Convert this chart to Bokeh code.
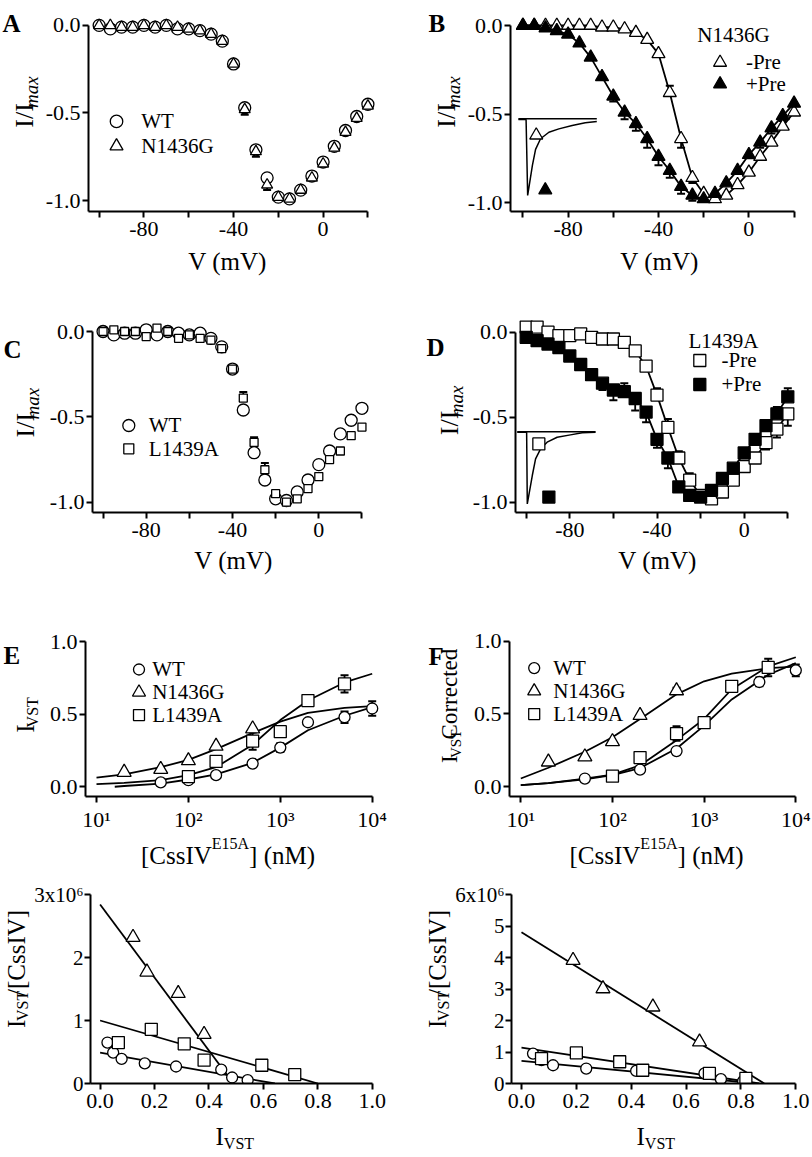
import math
from bokeh.plotting import figure
from bokeh.models import (Range1d, FixedTicker, Label, Whisker, ColumnDataSource, TeeHead)
from bokeh.layouts import row, column
from bokeh.embed import file_html
from bokeh.resources import INLINE

SERIF = "Liberation Serif"

# ---------------------------------------------------------------- data
V_mV = [-100, -95, -90, -85, -80, -75, -70, -65, -60, -55, -50, -45, -40,
        -35, -30, -25, -20, -15, -10, -5, 0, 5, 10, 15, 20]

# Panel A : I/Imax vs V
A_wt = [0.0, -0.02, -0.01, -0.01, 0.0, -0.01, 0.0, -0.02, -0.02, -0.03, -0.05, -0.09, -0.22,
        -0.47, -0.71, -0.87, -0.98, -0.99, -0.94, -0.86, -0.78, -0.69, -0.60, -0.52, -0.45]
A_n = [0.0, 0.0, -0.01, -0.01, 0.0, -0.01, 0.0, -0.01, -0.02, -0.03, -0.05, -0.09, -0.22,
       -0.48, -0.72, -0.91, -0.98, -0.99, -0.94, -0.87, -0.79, -0.70, -0.61, -0.53, -0.46]
A_n_err = [0, 0, 0, 0, 0, 0, 0, 0, 0, 0, 0, 0, 0,
           -0.03, -0.03, -0.03, 0, 0, 0, 0, 0, 0, 0, 0, 0]

# Panel B : N1436G -Pre / +Pre
B_minus = [0.0, 0.0, 0.0, 0.0, 0.0, 0.0, 0.0, -0.01, -0.01, -0.02, -0.04, -0.08, -0.16,
           -0.38, -0.64, -0.86, -0.95, -0.98, -0.96, -0.90, -0.83, -0.74, -0.66, -0.57, -0.49]
B_plus = [0.0, 0.0, -0.015, -0.03, -0.05, -0.10, -0.18, -0.29, -0.40, -0.49, -0.555, -0.64, -0.74,
          -0.82, -0.91, -0.96, -0.98, -0.95, -0.89, -0.82, -0.73, -0.66, -0.58, -0.51, -0.44]
B_minus_err = [0, 0, 0, 0, 0, 0, 0, 0, 0, 0, 0, 0, 0,
               0.04, -0.05, -0.03, 0, 0, 0, 0, 0, 0, 0, 0, 0]
B_plus_err = [0, 0, 0, 0, 0, 0, 0, 0, -0.03, -0.04, -0.04, -0.05, -0.05,
              -0.04, -0.04, -0.03, 0, 0, 0, 0, -0.02, -0.03, -0.03, -0.03, 0]
B_trace_plus_x = [-102, -98.6, -97.9, -95.8, -94.4, -92.2, -88.5, -84.1, -78.2, -72.4, -67.3]
B_trace_plus_y = [-0.531, -0.531, -0.96, -0.79, -0.70, -0.64, -0.603, -0.584, -0.565, -0.55, -0.542]
B_trace_minus_x = [-102, -67.3]
B_trace_minus_y = [-0.527, -0.527]
B_inset_open = ([-94.1], [-0.62])
B_inset_fill = ([-90.1], [-0.93])

# Panel C : WT vs L1439A
C_wt = [0.0, -0.02, -0.01, -0.01, 0.01, -0.02, 0.0, -0.01, -0.02, -0.01, -0.04, -0.09, -0.22,
        -0.46, -0.71, -0.87, -0.98, -0.99, -0.94, -0.87, -0.78, -0.70, -0.60, -0.52, -0.45]
C_l = [0.0, 0.01, 0.0, 0.0, -0.03, 0.02, 0.0, -0.04, -0.02, -0.04, -0.05, -0.10, -0.22,
       -0.39, -0.65, -0.81, -0.95, -1.0, -0.98, -0.92, -0.85, -0.75, -0.70, -0.61, -0.56]
C_l_err = [0, 0, 0, 0, 0, 0, 0, 0, 0, 0, 0, 0, 0,
           0.035, 0.03, 0.04, 0, 0, 0, 0, 0, 0, 0, 0, 0]

# Panel D : L1439A -Pre / +Pre
D_minus = [0.03, 0.03, 0.0, -0.02, -0.02, -0.01, -0.03, -0.04, -0.04, -0.06, -0.11, -0.20, -0.37,
           -0.56, -0.74, -0.87, -0.96, -0.98, -0.94, -0.87, -0.79, -0.74, -0.65, -0.57, -0.48]
D_plus = [-0.03, -0.05, -0.07, -0.09, -0.14, -0.19, -0.25, -0.30, -0.34, -0.35, -0.39, -0.47, -0.63,
          -0.74, -0.91, -0.96, -0.97, -0.93, -0.86, -0.80, -0.71, -0.63, -0.55, -0.48, -0.38]
D_minus_err = [0, 0, 0, 0, 0, 0, 0, 0, 0, 0, 0, 0, 0.04,
               0.05, 0.04, 0.04, 0.03, 0, 0, 0, 0, 0, -0.04, -0.05, -0.07]
D_plus_err = [0, 0, 0, 0, 0, 0, -0.03, -0.04, -0.06, 0.05, -0.07, -0.06, -0.05,
              -0.06, 0, 0, 0, 0, 0, 0, 0, 0, 0, 0.04, 0.05]
D_trace_plus_x = [-104.1, -99.8, -99.5, -97.2, -95.7, -93.4, -90.4, -85.8, -79.7, -74.3, -68.2]
D_trace_plus_y = [-0.588, -0.588, -1.01, -0.843, -0.745, -0.686, -0.647, -0.618, -0.604, -0.592, -0.588]
D_trace_minus_x = [-104.1, -68.2]
D_trace_minus_y = [-0.585, -0.585]
D_inset_open = ([-94.2], [-0.657])
D_inset_fill = ([-89.6], [-0.97])

# Panel E : I_VST vs [CssIV E15A] (nM)
E_wt_x = [50, 100, 200, 500, 1000, 2000, 5000, 10000]
E_wt = [0.03, 0.045, 0.08, 0.16, 0.27, 0.445, 0.48, 0.54]
E_wt_err = [0, 0, 0, 0, 0.03, 0, 0.04, 0.05]
E_n_x = [20, 50, 100, 200, 500]
E_n = [0.10, 0.12, 0.18, 0.28, 0.40]
E_l_x = [100, 200, 500, 1000, 2000, 5000]
E_l = [0.07, 0.175, 0.315, 0.38, 0.595, 0.71]
E_l_err = [0, 0, 0.06, 0.03, 0, 0.06]
fit_x = [10, 20, 50, 100, 200, 500, 1000, 2000, 5000, 10000]
fitE_wt_x = [15.8, 20, 50, 100, 200, 500, 1000, 2000, 5000, 10000]
fitE_wt = [0.0, 0.005, 0.022, 0.05, 0.085, 0.165, 0.27, 0.39, 0.49, 0.55]
fitE_n = [0.063, 0.085, 0.135, 0.185, 0.26, 0.37, 0.45, 0.51, 0.545, 0.557]
fitE_l = [0.018, 0.027, 0.045, 0.08, 0.135, 0.29, 0.46, 0.595, 0.72, 0.78]

# Panel F : I_VST corrected
F_wt_x = [50, 200, 500, 4000, 10000]
F_wt = [0.056, 0.117, 0.245, 0.72, 0.80]
F_wt_err = [0, 0, 0, 0.03, 0.04]
F_n_x = [20, 50, 100, 200, 500]
F_n = [0.17, 0.205, 0.31, 0.49, 0.66]
F_n_err = [0, 0, 0, 0, 0.02]
F_l_x = [100, 200, 500, 1000, 2000, 5000]
F_l = [0.072, 0.20, 0.365, 0.44, 0.69, 0.82]
F_l_err = [0, 0, 0.05, 0.03, 0.02, 0.06]
fitF_n = [0.056, 0.13, 0.24, 0.34, 0.466, 0.635, 0.725, 0.777, 0.815, 0.826]
fitF_wt = [0.011, 0.025, 0.05, 0.079, 0.128, 0.263, 0.42, 0.60, 0.77, 0.85]
fitF_l = [0.011, 0.025, 0.056, 0.083, 0.146, 0.32, 0.466, 0.67, 0.827, 0.89]

# Panel G : Scatchard, I_VST/[CssIV] (x1e6) vs I_VST
G_n_x = [0.121, 0.172, 0.287, 0.382]
G_n = [2.32, 1.77, 1.43, 0.78]
G_l_x = [0.067, 0.188, 0.309, 0.382, 0.594, 0.715]
G_l = [0.65, 0.86, 0.63, 0.37, 0.29, 0.14]
G_wt_x = [0.027, 0.048, 0.079, 0.164, 0.279, 0.445, 0.485, 0.542]
G_wt = [0.65, 0.49, 0.39, 0.32, 0.27, 0.22, 0.095, 0.053]
G_fit_n = ([0.0, 0.49], [2.84, 0.0])
G_fit_l = ([0.0, 0.80], [1.0, 0.0])
G_fit_wt = ([0.0, 0.642], [0.49, 0.0])

# Panel H : Scatchard of corrected data
H_n_x = [0.188, 0.297, 0.479, 0.649]
H_n = [3.91, 3.01, 2.43, 1.32]
H_l_x = [0.073, 0.2, 0.358, 0.442, 0.685, 0.818]
H_l = [0.79, 0.97, 0.69, 0.42, 0.32, 0.16]
H_wt_x = [0.042, 0.073, 0.115, 0.236, 0.418, 0.667, 0.727, 0.808]
H_wt = [0.95, 0.74, 0.58, 0.475, 0.40, 0.32, 0.137, 0.074]
H_fit_n = ([0.0, 0.885], [4.80, 0.0])
H_fit_l = ([0.0, 0.867], [1.14, 0.0])
H_fit_wt = ([0.0, 0.855], [0.72, 0.0])

# tick labels
V_ticks = [-100, -80, -60, -40, -20, 0, 20]
V_tick_labels = ["", "-80", "", "-40", "", "0", ""]
I_ticks = [-1.0, -0.5, 0.0]
I_tick_labels = ["-1.0", "-0.5", "0.0"]
C_ticks = [10, 100, 1000, 10000]
C_tick_labels = ["10\u00b9", "10\u00b2", "10\u00b3", "10\u2074"]
F01_ticks = [0.0, 0.5, 1.0]
F01_tick_labels = ["0.0", "0.5", "1.0"]
S_x_ticks = [0.0, 0.2, 0.4, 0.6, 0.8, 1.0]
S_x_tick_labels = ["0.0", "0.2", "0.4", "0.6", "0.8", "1.0"]
G_y_ticks = [0, 1, 2, 3]
G_y_tick_labels = ["0", "1", "2", "3x10\u2076"]
H_y_ticks = [0, 1, 2, 3, 4, 5, 6]
H_y_tick_labels = ["0", "1", "2", "3", "4", "5", "6x10\u2076"]

# ---------------------------------------------------------------- helpers
TW = {' ': 250, '(': 333, ')': 333, '[': 333, ']': 333, '/': 278, '-': 333, '.': 250,
      'A': 722, 'C': 667, 'E': 611, 'I': 333, 'M': 889, 'S': 556, 'T': 611, 'V': 722,
      'a': 444, 'c': 444, 'd': 500, 'e': 444, 'm': 778, 'n': 500, 'o': 500, 'r': 333,
      's': 389, 't': 278, 'x': 500}
TWI = {'m': 722, 'a': 500, 'x': 444}
MID = 0.3375   # baseline -> middle of the line box, in em


def tw(s, size, italic=False):
    tot = 0
    for ch in s:
        if italic and ch in TWI:
            tot += TWI[ch]
        else:
            tot += TW.get(ch, 500)
    return tot * size / 1000.0


class Box:
    """A figure occupying page pixels (x0, y0)-(x1, y1); its frame is (l, r, t, b)."""

    def __init__(self, x0, y0, x1, y1, frame=None, xmap=None, ymap=None, xlog=False):
        text_only = frame is None
        if text_only:
            frame = (x0, x1, y0, y1)
            xmap = (x0, x0, x1, x1)
            ymap = (y0, y0, y1, y1)
        l, r, t, b = frame
        self.l, self.r, self.t, self.b = l, r, t, b
        self.xmap, self.ymap, self.xlog = xmap, ymap, xlog
        kw = dict(width=x1 - x0, height=y1 - y0,
                  x_range=Range1d(self.xval(l), self.xval(r)),
                  y_range=Range1d(self.yval(b), self.yval(t)),
                  output_backend="svg", toolbar_location=None,
                  min_border_left=l - x0, min_border_right=x1 - r,
                  min_border_top=t - y0, min_border_bottom=y1 - b)
        if text_only:
            kw.update(x_axis_location=None, y_axis_location=None)
        else:
            kw.update(x_axis_type="log" if xlog else "linear")
        p = figure(**kw)
        p.outline_line_color = None
        p.grid.visible = False
        p.background_fill_color = "white"
        p.border_fill_color = "white"
        self.p = p

    def xval(self, px):
        v1, p1, v2, p2 = self.xmap
        v = v1 + (px - p1) * (v2 - v1) / (p2 - p1)
        return 10 ** v if self.xlog else v

    def yval(self, py):
        v1, p1, v2, p2 = self.ymap
        return v1 + (py - p1) * (v2 - v1) / (p2 - p1)


def axes(pn, xt, xl, yt, yl, xb, yb, yfont="22px", ystand=2):
    p = pn.p
    xa, ya = p.xaxis[0], p.yaxis[0]
    for ax in (xa, ya):
        ax.axis_line_width = 2
        ax.axis_line_color = "black"
        ax.major_tick_line_width = 2
        ax.major_tick_line_color = "black"
        ax.major_tick_out = 6
        ax.major_tick_in = 0
        ax.minor_tick_line_color = None
        ax.major_label_text_font = SERIF
        ax.major_label_text_font_size = "22px"
        ax.major_label_text_color = "black"
        ax.axis_label = None
    ya.major_label_text_font_size = yfont
    xa.ticker = FixedTicker(ticks=xt, minor_ticks=[])
    xa.major_label_overrides = {t: s for t, s in zip(xt, xl)}
    ya.ticker = FixedTicker(ticks=yt, minor_ticks=[])
    ya.major_label_overrides = {t: s for t, s in zip(yt, yl)}
    xa.bounds = xb
    ya.bounds = yb
    xa.major_label_standoff = 4
    ya.major_label_standoff = ystand


def label(bx, x, y, text, size, rotated=False, align="left", style="normal"):
    """(x, y) is the start of the text baseline in page pixels."""
    off = MID * size
    if rotated:
        ax, ay, ang = x - off, y, math.pi / 2
    else:
        ax, ay, ang = x, y - off, 0.0
    bx.p.add_layout(Label(x=bx.xval(ax), y=bx.yval(ay), text=text, text_font=SERIF,
                          text_font_size=f"{size}px", text_font_style=style, angle=ang,
                          text_align=align, text_baseline="middle", text_color="black"))


def ylabel(bx, base_x, start_y, pieces):
    y = start_y
    for text, size, shift, italic in pieces:
        label(bx, base_x + shift, y, text, size, rotated=True,
              style="italic" if italic else "normal")
        y -= tw(text, size, italic)


def xlabel(bx, center_x, base_y, pieces, start_x=None):
    total = sum(tw(t, s, it) for t, s, _, it in pieces)
    x = center_x - total / 2 if start_x is None else start_x
    for text, size, dy, italic in pieces:
        label(bx, x, base_y + dy, text, size, style="italic" if italic else "normal")
        x += tw(text, size, italic)


def letter(bx, x, y, text):
    label(bx, x, y, text, 25, style="bold")


def pts(pn, xs, ys, marker, size, filled=False, lw=1.3):
    return pn.p.scatter(xs, ys, marker=marker, size=size,
                        fill_color="black" if filled else "white",
                        line_color="black", line_width=lw)


def line(pn, xs, ys, lw=1.8):
    pn.p.line(xs, ys, line_color="black", line_width=lw)


def errbars(pn, xs, ys, es, one_sided=True, head=8):
    sel = [(x, y, e) for x, y, e in zip(xs, ys, es) if e != 0]
    if not sel:
        return
    up = [y + e if one_sided else y + abs(e) for x, y, e in sel]
    lo = [y if one_sided else y - abs(e) for x, y, e in sel]
    src = ColumnDataSource(dict(x=[s[0] for s in sel], up=up, lo=lo))
    w = Whisker(source=src, base="x", upper="up", lower="lo", dimension="height",
                line_width=1.8, line_color="black",
                upper_head=TeeHead(size=head, line_width=2, line_color="black"),
                lower_head=None if one_sided else TeeHead(size=head, line_width=2, line_color="black"),
                level="underlay")
    pn.p.add_layout(w)


def legend(pn, entries, cx, cy0, step, tx, size=21):
    """Key: sample markers at page px (cx, cy0 + i*step), texts starting at tx."""
    for i, (text, marker, ms, filled) in enumerate(entries):
        cy = cy0 + i * step
        pn.p.scatter([pn.xval(cx)], [pn.yval(cy)], marker=marker, size=ms,
                     fill_color="black" if filled else "white",
                     line_color="black", line_width=1.3)
        label(pn, tx, cy + 0.331 * size, text, size)


# ---------------------------------------------------------------- layout boxes
# row 1
SA = Box(0, 0, 42, 247)
A = Box(42, 0, 406, 247, (85, 382, 12, 213), (-80, 141.0, 0, 322.0), (0, 25, -1, 202))
SB = Box(406, 0, 464, 247)
B = Box(464, 0, 811, 247, (508, 802, 12, 211), (-80, 566, 0, 748), (0, 25, -1, 202))
XA = Box(0, 247, 406, 280)
XB = Box(406, 247, 811, 280)
# row 2
SC = Box(0, 280, 44, 546)
C = Box(44, 280, 406, 546, (92, 376, 318, 512), (-80, 145.7, 0, 318.3), (0, 331, -1, 501.7))
SD = Box(406, 280, 467, 546)
D = Box(467, 280, 811, 546, (515, 802, 318, 512), (-80, 569.3, 0, 743.7), (0, 331.7, -1, 501.7))
XC = Box(0, 546, 406, 578)
XD = Box(406, 546, 811, 578)
# row 3
SE = Box(0, 578, 44, 834)
E = Box(44, 578, 406, 834, (85, 385, 628, 800), (1, 96, 4, 371.7), (0, 790, 1, 641.7), xlog=True)
SF = Box(406, 578, 466, 834)
F = Box(466, 578, 811, 834, (509, 802, 628, 799), (1, 520.3, 4, 795.3), (0, 789, 1, 641), xlog=True)
XE = Box(0, 834, 406, 880)
XF = Box(406, 834, 811, 880)
# row 4
SG = Box(0, 880, 31, 1120)
G = Box(31, 880, 406, 1120, (87, 385, 884, 1083), (0, 96.7, 1, 371.7), (0, 1083, 3, 894))
SH = Box(406, 880, 452, 1120)
H = Box(452, 880, 811, 1120, (511, 802, 884, 1083), (0, 521, 1, 795.3), (0, 1083, 6, 894))
XG = Box(0, 1120, 406, 1156)
XH = Box(406, 1120, 811, 1156)

IMAX = [("I/I", 26, 0, False), ("max", 19, 4, True)]
VMV = [("V (mV)", 25, 0, False)]
CSS = [("[CssIV", 25, 0, False), ("E15A", 16, -14.5, False), ("] (nM)", 25, 0, False)]

for pn in (A, B, C, D):
    axes(pn, V_ticks, V_tick_labels, I_ticks, I_tick_labels,
         (pn.xval(pn.l), 20), (pn.yval(pn.b), 0.0))

# ---- A
errbars(A, V_mV, A_n, A_n_err)
pts(A, V_mV, A_wt, "circle", 12)
pts(A, V_mV, A_n, "triangle", 11)
legend(A, [("WT", "circle", 12.5, False), ("N1436G", "triangle", 13, False)], 113.3, 122, 25, 138.3)
letter(SA, 2, 22.5, "A")
ylabel(SA, 33, 143, IMAX)
xlabel(XA, 227, 269.5, VMV)

# ---- B
line(B, V_mV, B_minus)
line(B, V_mV, B_plus)
errbars(B, V_mV, B_minus, B_minus_err)
errbars(B, V_mV, B_plus, B_plus_err)
pts(B, V_mV, B_minus, "triangle", 13)
pts(B, V_mV, B_plus, "triangle", 13, filled=True)
line(B, B_trace_minus_x, B_trace_minus_y, lw=1.5)
line(B, B_trace_plus_x, B_trace_plus_y, lw=1.5)
pts(B, B_inset_open[0], B_inset_open[1], "triangle", 13)
pts(B, B_inset_fill[0], B_inset_fill[1], "triangle", 13, filled=True)
label(B, 696, 42, "N1436G", 21)
legend(B, [("-Pre", "triangle", 13, False), ("+Pre", "triangle", 13, True)], 719, 62, 21.5, 745)
letter(SB, 428, 22.5, "B")
ylabel(SB, 455, 143, IMAX)
xlabel(XB, 659, 269.5, VMV)

# ---- C
errbars(C, V_mV, C_l, C_l_err)
pts(C, V_mV, C_wt, "circle", 12)
pts(C, V_mV, C_l, "square", 8)
legend(C, [("WT", "circle", 12, False), ("L1439A", "square", 10, False)], 128.3, 425, 23.3, 148.3)
letter(SC, 3, 331, "C")
ylabel(SC, 34, 443, IMAX)
xlabel(XC, 233, 568.5, VMV)

# ---- D
line(D, V_mV, D_minus)
line(D, V_mV, D_plus)
errbars(D, V_mV, D_minus, D_minus_err)
errbars(D, V_mV, D_plus, D_plus_err)
pts(D, V_mV, D_minus, "square", 12)
pts(D, V_mV, D_plus, "square", 12, filled=True)
line(D, D_trace_minus_x, D_trace_minus_y, lw=1.5)
line(D, D_trace_plus_x, D_trace_plus_y, lw=1.5)
pts(D, D_inset_open[0], D_inset_open[1], "square", 12)
pts(D, D_inset_fill[0], D_inset_fill[1], "square", 12, filled=True)
label(D, 688, 348, "L1439A", 21)
legend(D, [("-Pre", "square", 12, False), ("+Pre", "square", 12, True)], 699.3, 360, 24, 721)
letter(SD, 426, 328, "D")
ylabel(SD, 458, 440, IMAX)
xlabel(XD, 657, 568.5, VMV)

# ---- E / F
for pn in (E, F):
    axes(pn, C_ticks, C_tick_labels, F01_ticks, F01_tick_labels,
         (pn.xval(pn.l), 10000), (pn.yval(pn.b), 1.0))

KEY3 = [("WT", "circle", 11, False), ("N1436G", "triangle", 13, False), ("L1439A", "square", 11, False)]

line(E, fitE_wt_x, fitE_wt)
line(E, fit_x, fitE_n)
line(E, fit_x, fitE_l)
errbars(E, E_wt_x, E_wt, E_wt_err, one_sided=False)
errbars(E, E_l_x, E_l, E_l_err, one_sided=False)
pts(E, E_wt_x, E_wt, "circle", 11)
pts(E, E_n_x, E_n, "triangle", 14)
pts(E, E_l_x, E_l, "square", 12)
legend(E, KEY3, 138.5, 670, 23.3, 151.7)
letter(SE, 3, 628, "E")
ylabel(SE, 33, 737, [("I", 25, 0, False), ("VST", 16, 4, False)])
xlabel(XE, 227.5, 863, CSS)

line(F, fit_x, fitF_wt)
line(F, fit_x, fitF_n)
line(F, fit_x, fitF_l)
errbars(F, F_wt_x, F_wt, F_wt_err, one_sided=False)
errbars(F, F_n_x, F_n, F_n_err, one_sided=False)
errbars(F, F_l_x, F_l, F_l_err, one_sided=False)
pts(F, F_wt_x, F_wt, "circle", 11)
pts(F, F_n_x, F_n, "triangle", 14)
pts(F, F_l_x, F_l, "square", 12)
legend(F, KEY3, 533.7, 668.3, 23.4, 552.7)
letter(SF, 428, 629, "F")
ylabel(SF, 457, 783, [("I", 23, 0, False), ("VST", 15, 4, False), (" Corrected", 23, 0, False)])
xlabel(XF, 656, 863, CSS)

# ---- G / H
axes(G, S_x_ticks, S_x_tick_labels, G_y_ticks, G_y_tick_labels, (G.xval(G.l), 1.0), (0, 3),
     yfont="21px", ystand=1)
axes(H, S_x_ticks, S_x_tick_labels, H_y_ticks, H_y_tick_labels, (H.xval(H.l), 1.0), (0, 6),
     yfont="21px", ystand=1)

for pn, fits in ((G, (G_fit_n, G_fit_l, G_fit_wt)), (H, (H_fit_n, H_fit_l, H_fit_wt))):
    for fx, fy in fits:
        line(pn, fx, fy)

pts(G, G_wt_x, G_wt, "circle", 11)
pts(G, G_l_x, G_l, "square", 12)
pts(G, G_n_x, G_n, "triangle", 14)
pts(H, H_wt_x, H_wt, "circle", 11)
pts(H, H_l_x, H_l, "square", 12)
pts(H, H_n_x, H_n, "triangle", 14)

SC_Y = [("I", 25, 0, False), ("VST", 16, 3, False), ("/[CssIV]", 25, 0, False)]
SC_X = [("I", 25, 0, False), ("VST", 16, 4, False)]
ylabel(SG, 24, 1053, SC_Y)
ylabel(SH, 445, 1053, SC_Y)
xlabel(XG, 0, 1144, SC_X, start_x=215)
xlabel(XH, 0, 1144, SC_X, start_x=636)

layout = column(
    row(SA.p, A.p, SB.p, B.p), row(XA.p, XB.p),
    row(SC.p, C.p, SD.p, D.p), row(XC.p, XD.p),
    row(SE.p, E.p, SF.p, F.p), row(XE.p, XF.p),
    row(SG.p, G.p, SH.p, H.p), row(XG.p, XH.p),
)
open("out.html", "w").write(file_html(layout, INLINE))
